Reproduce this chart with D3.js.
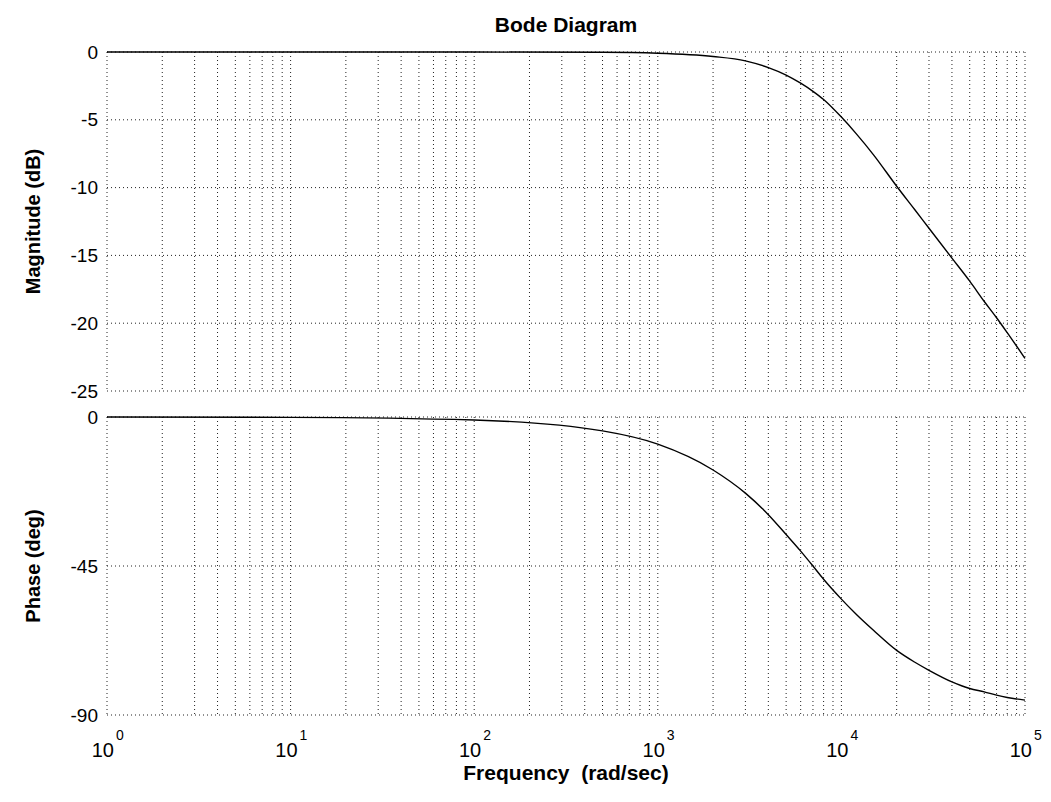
<!DOCTYPE html>
<html>
<head>
<meta charset="utf-8">
<title>Bode Diagram</title>
<script src="https://cdn.jsdelivr.net/npm/d3@7"></script>
<style>
    body { margin: 0; background: #fff; }
    svg { display: block; }
    text { font-family: "Liberation Sans", Arial, sans-serif; fill: #000; }
</style>
</head>
<body>
<svg id="chart" width="1051" height="802"></svg>
<script>
(function () {
    'use strict';

    const WIDTH = 1051;
    const HEIGHT = 802;

    // frequencies (rad/sec) the curves were read at
    let freq = [1, 10, 100, 500, 1000, 2000, 3000, 4000, 5000, 6000, 7000, 8000,
        10000, 12000, 15000, 20000, 25000, 30000, 40000, 50000, 60000, 70000, 80000, 100000];
    // magnitude (dB)
    let magnitude = [0, 0, 0, -0.02, -0.09, -0.33, -0.65, -1.15, -1.7, -2.3, -2.9, -3.5,
        -4.8, -6.0, -7.6, -9.9, -11.6, -13.0, -15.2, -16.9, -18.4, -19.6, -20.7, -22.6];
    // phase (deg)
    let phase = [0, -0.1, -0.9, -4.2, -8.2, -16, -23, -29.5, -35.5, -40.5, -45, -49,
        -55, -59.5, -64.5, -70.5, -74, -76.5, -80, -82, -83, -84, -84.7, -85.5];

    let xTicks = [1, 10, 100, 1000, 10000, 100000];
    let magTicks = [0, -5, -10, -15, -20, -25];
    let phaseTicks = [0, -45, -90];

    var svg = d3.select("#chart");

    var left = 107, right = 1025;
    var magTop = 52, magBottom = 391;
    var phTop = 417, phBottom = 715;

    var x = d3.scaleLog()
        .domain([1, 100000])
        .range([left, right]);

    var yMag = d3.scaleLinear()
        .domain([-25, 0])
        .range([magBottom, magTop]);

    var yPh = d3.scaleLinear()
        .domain([-90, 0])
        .range([phBottom, phTop]);

    // minor + major frequencies for the vertical grid
    let gridFreq = [];
    for (let d = 0; d < 5; d++) {
        for (let k = 1; k < 10; k++) gridFreq.push(k * Math.pow(10, d));
    }
    gridFreq.push(100000);

    function drawPanel(y, ticks, top, bottom) {
        let g = svg.append("g");

        // dotted grid, box included
        g.selectAll(".vgrid").data(gridFreq).enter().append("line")
            .attr("x1", d => x(d)).attr("x2", d => x(d))
            .attr("y1", top).attr("y2", bottom)
            .attr("stroke", "#222").attr("stroke-width", 1)
            .attr("stroke-dasharray", "1,3");
        g.selectAll(".hgrid").data(ticks).enter().append("line")
            .attr("x1", left).attr("x2", right)
            .attr("y1", d => y(d)).attr("y2", d => y(d))
            .attr("stroke", "#222").attr("stroke-width", 1)
            .attr("stroke-dasharray", "1,3");

        var axis = d3.axisLeft(y)
            .tickValues(ticks)
            .tickSize(0)
            .tickPadding(9)
            .tickFormat(d3.format("d"));
        let ag = g.append("g")
            .attr("transform", `translate(${left},0)`)
            .call(axis);
        ag.select(".domain").remove();
        ag.selectAll("text")
            .attr("font-size", 19)
            .attr("font-family", "'Liberation Sans', Arial, sans-serif")
            .text(d => d3.format("d")(d).replace("−", "-"));
        return g;
    }

    drawPanel(yMag, magTicks, magTop, magBottom);
    drawPanel(yPh, phaseTicks, phTop, phBottom);

    let magData = freq.map((f, i) => [f, magnitude[i]]);
    let phData = freq.map((f, i) => [f, phase[i]]);

    var magLine = d3.line()
        .x(d => x(d[0]))
        .y(d => yMag(d[1]))
        .curve(d3.curveMonotoneX);
    var phLine = d3.line()
        .x(d => x(d[0]))
        .y(d => yPh(d[1]))
        .curve(d3.curveMonotoneX);

    svg.append("path").datum(magData)
        .attr("d", magLine)
        .attr("fill", "none").attr("stroke", "#000").attr("stroke-width", 1.4);
    svg.append("path").datum(phData)
        .attr("d", phLine)
        .attr("fill", "none").attr("stroke", "#000").attr("stroke-width", 1.4);

    // x tick labels, 10 with exponent
    svg.append("g").selectAll("text").data(xTicks).enter().append("text")
        .attr("x", d => x(d) + 7)
        .attr("y", 757)
        .attr("text-anchor", "end")
        .attr("font-size", 20)
        .text("10");
    svg.append("g").selectAll("text").data(xTicks).enter().append("text")
        .attr("x", d => x(d) + 9)
        .attr("y", 740)
        .attr("font-size", 14)
        .text(d => Math.round(Math.log10(d)));

    // title and labels
    svg.append("text")
        .attr("x", (left + right) / 2).attr("y", 32)
        .attr("text-anchor", "middle")
        .attr("font-size", 21).attr("font-weight", "bold")
        .text("Bode Diagram");

    svg.append("text")
        .attr("x", (left + right) / 2).attr("y", 780)
        .attr("text-anchor", "middle")
        .attr("font-size", 21).attr("font-weight", "bold")
        .style("white-space", "pre")
        .text("Frequency  (rad/sec)");

    svg.append("text")
        .attr("transform", `translate(33,${(magTop + magBottom) / 2}) rotate(-90)`)
        .attr("text-anchor", "middle")
        .attr("dy", "0.35em")
        .attr("font-size", 20).attr("font-weight", "bold")
        .text("Magnitude (dB)");

    svg.append("text")
        .attr("transform", `translate(33,${(phTop + phBottom) / 2}) rotate(-90)`)
        .attr("text-anchor", "middle")
        .attr("dy", "0.35em")
        .attr("font-size", 20).attr("font-weight", "bold")
        .text("Phase (deg)");
})();
</script>
</body>
</html>
